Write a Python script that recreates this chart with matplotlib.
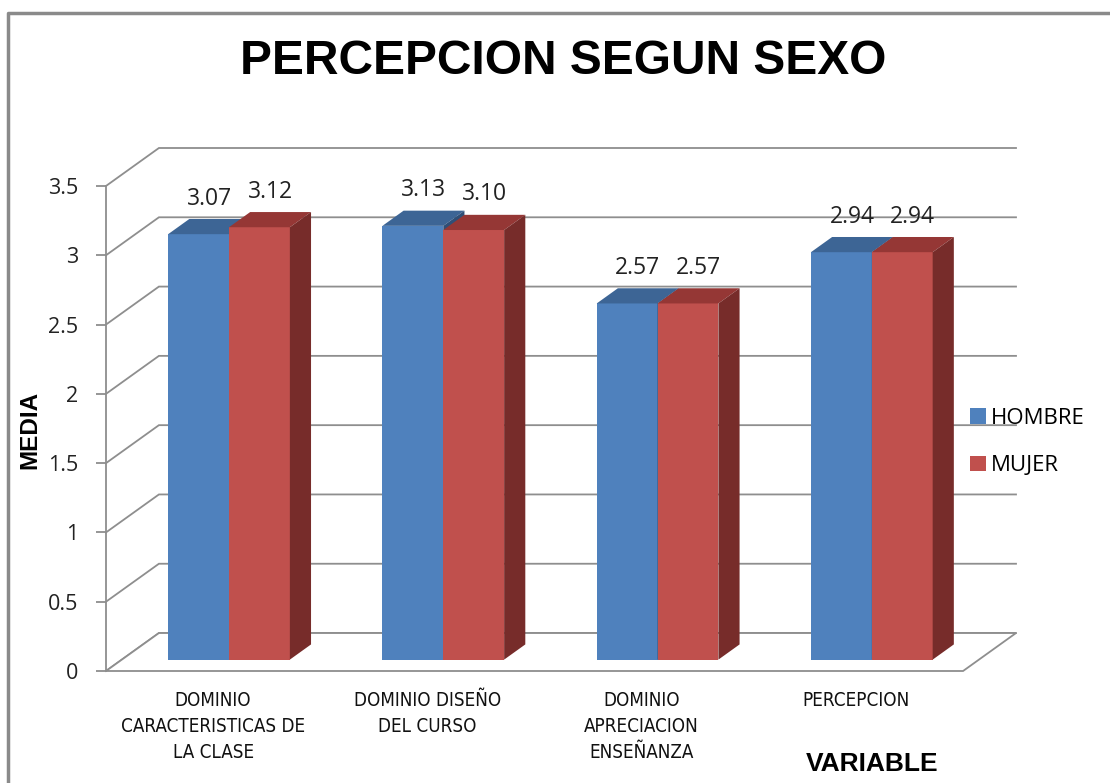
import matplotlib.pyplot as plt
from matplotlib.patches import Polygon, Patch
from matplotlib.lines import Line2D
from matplotlib import font_manager
import numpy as np

# data
categories = ["DOMINIO\nCARACTERISTICAS DE\nLA CLASE", "DOMINIO DISEÑO\nDEL CURSO",
              "DOMINIO\nAPRECIACION\nENSEÑANZA", "PERCEPCION"]
hombre = [3.07, 3.13, 2.57, 2.94]
mujer = [3.12, 3.10, 2.57, 2.94]
yticks = [0, 0.5, 1, 1.5, 2, 2.5, 3, 3.5]

# colours
blue = ("#4F81BD", "#3D6595", "#2F4F77")   # front, top, side
red = ("#C0504D", "#953735", "#772C2A")
grid_col = "#8E8E8E"
num_font = ["Open Sans", "DejaVu Sans"]

# narrow font for the category labels, if there is one
try:
    font_manager.findfont(font_manager.FontProperties(family="Liberation Sans Narrow"),
                          fallback_to_default=False)
    cat_font = dict(family=["Liberation Sans Narrow", "DejaVu Sans"], fontsize=14.5)
except ValueError:
    cat_font = dict(family=["DejaVu Sans"], fontstretch="condensed", fontsize=13.5)

# oblique 3d settings (data units)
dx, dy = 0.247, 0.274      # full depth of the box
f0, f1 = 0.30, 0.70        # bar front / back depth fraction
w = 0.284                  # single bar width

fig = plt.figure(figsize=(11.1, 7.83), dpi=100)
ax = fig.add_axes([106 / 1110, 112 / 783, 910 / 1110, 523 / 783])
n = len(categories)
ax.set_xlim(0, n + dx)
ax.set_ylim(0, 3.5 + dy)

# walls: left wall diagonals + back wall lines
for v in yticks:
    ax.plot([0, dx, n + dx], [v, v + dy, v + dy], color=grid_col, lw=1.3,
            zorder=1, clip_on=False, solid_joinstyle="miter")

# floor
floor = Polygon([(0, 0), (n, 0), (n + dx, dy), (dx, dy)], closed=True,
                facecolor="white", edgecolor=grid_col, lw=1.3, zorder=2, clip_on=False)
ax.add_patch(floor)

# y axis
for s in ["top", "right", "bottom"]:
    ax.spines[s].set_visible(False)
ax.spines["left"].set_bounds(0, 3.5)
ax.spines["left"].set_color(grid_col)
ax.spines["left"].set_linewidth(1.3)
ax.spines["left"].set_zorder(2)
ax.set_yticks(yticks)
ax.set_yticklabels([f"{v:g}" for v in yticks], fontsize=15.5, family=num_font, color="#222222")
ax.tick_params(axis="y", length=7, width=1.3, color=grid_col, pad=13)
ax.set_xticks([])
ax.patch.set_visible(False)

ddx, ddy = (f1 - f0) * dx, (f1 - f0) * dy
base = f0 * dy


def draw_bars(xc, vals, cols, z):
    xs = np.array(xc) + f0 * dx
    ax.bar(xs, vals, width=w, bottom=base, color=cols[0], zorder=z, clip_on=False)
    for x, v in zip(xs, vals):
        xl, xr, top = x - w / 2, x + w / 2, v + base
        ax.add_patch(Polygon([(xl, top), (xr, top), (xr + ddx, top + ddy), (xl + ddx, top + ddy)],
                             closed=True, facecolor=cols[1], edgecolor="none", zorder=z, clip_on=False))
        ax.add_patch(Polygon([(xr, base), (xr, top), (xr + ddx, top + ddy), (xr + ddx, base + ddy)],
                             closed=True, facecolor=cols[2], edgecolor="none", zorder=z, clip_on=False))
        ax.annotate(f"{v:.2f}", xy=(x + ddx / 2, top + ddy / 2), xytext=(0, 28),
                    textcoords="offset pixels", ha="center", va="center",
                    fontsize=16.5, family=num_font, color="#222222", zorder=6)


centers = np.arange(n) + 0.5
draw_bars(centers - w / 2, hombre, blue, 3)
draw_bars(centers + w / 2, mujer, red, 4)

# category labels
for c, lab in zip(centers, categories):
    ax.annotate(lab, xy=(c, 0), xytext=(0, -20), textcoords="offset pixels",
                ha="center", va="top", multialignment="center", linespacing=1.45,
                color="#111111", **cat_font)

# titles
fig.text(563 / 1110, 1 - 62 / 783, "PERCEPCION SEGUN SEXO", ha="center", va="center",
         fontsize=34.5, fontweight="bold", family="Liberation Sans")
fig.text(30 / 1110, 1 - 430 / 783, "MEDIA", rotation=90, ha="center", va="center",
         fontsize=17.5, fontweight="bold", family="Liberation Sans")
fig.text(872 / 1110, 1 - 764 / 783, "VARIABLE", ha="center", va="center",
         fontsize=19, fontweight="bold", family="Liberation Sans")

# legend
handles = [Patch(facecolor=blue[0]), Patch(facecolor=red[0])]
fig.legend(handles, ["HOMBRE", "MUJER"], loc="center left",
           bbox_to_anchor=(950 / 1110, 1 - 442 / 783), frameon=False,
           handlelength=0.7, handleheight=0.7, handletextpad=0.25, labelspacing=1.2,
           prop={"family": num_font, "size": 16})

# chart border
fig.add_artist(Line2D([8 / 1110, 8 / 1110, 1], [0, 1 - 13 / 783, 1 - 13 / 783],
                      transform=fig.transFigure, color="#8A8A8A", lw=2.5))

fig.savefig("out.png", dpi=100)
